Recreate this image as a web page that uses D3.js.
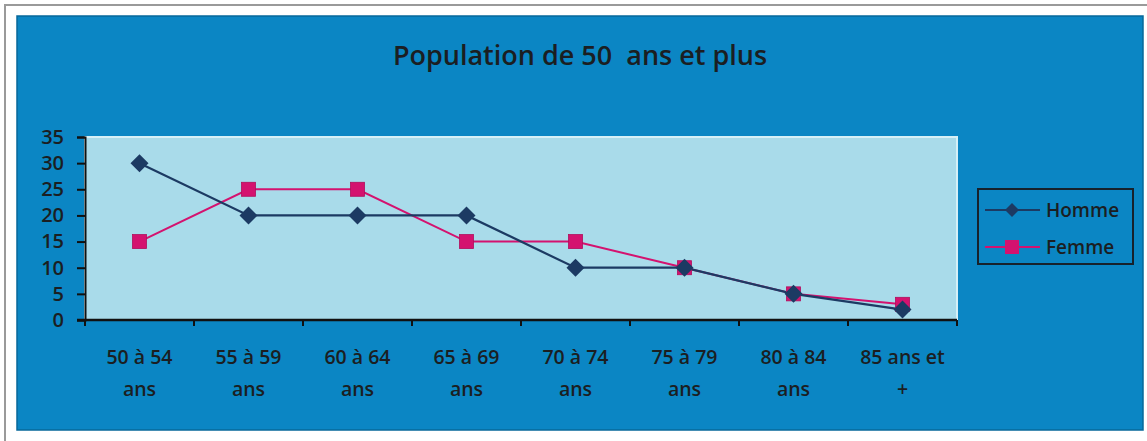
<!DOCTYPE html>
<html><head><meta charset="utf-8">
<script src="https://cdn.jsdelivr.net/npm/d3@7"></script>
<style>body{margin:0;background:#fff;}svg{display:block;}</style>
</head><body>
<svg id="c" width="1147" height="441"></svg>
<script>
const categories = [["50 à 54","ans"],["55 à 59","ans"],["60 à 64","ans"],["65 à 69","ans"],["70 à 74","ans"],["75 à 79","ans"],["80 à 84","ans"],["85 ans et","+"]];
const homme = [30,20,20,20,10,10,5,2];
const femme = [15,25,25,15,15,10,5,3];
const yTicks = [0,5,10,15,20,25,30,35];
const seriesNames = ["Homme","Femme"];

const svg = d3.select("#c");
const font = "'Open Sans', sans-serif";
const txt = "#1b1e22";

// page frame
svg.append("rect").attr("x",5).attr("y",5).attr("width",1150).attr("height",440).attr("fill","#fff").attr("stroke","#9a9a9a").attr("stroke-width",2);
// chart area
svg.append("rect").attr("x",17).attr("y",16).attr("width",1126).attr("height",414).attr("fill","#0b86c4").attr("stroke","#07689a").attr("stroke-width",1.5);

const L=85,R=957,T=137,B=320;
const x = d3.scaleBand().domain(d3.range(categories.length)).range([L,R]);
const y = d3.scaleLinear().domain([0,35]).range([B,T]);

svg.append("rect").attr("x",L).attr("y",T).attr("width",R-L).attr("height",B-T).attr("fill","#a9dbea").attr("stroke","#d6f0f7").attr("stroke-width",2);

// title
svg.append("text").attr("x",580).attr("y",65).attr("text-anchor","middle")
  .attr("font-family",font).attr("font-weight",600).attr("font-size",27).attr("fill",txt)
  .attr("xml:space","preserve").text("Population de 50  ans et plus");

// y axis
const yAxis = svg.append("g").attr("transform",`translate(${L},0)`)
  .call(d3.axisLeft(y).tickValues(yTicks).tickSize(8).tickPadding(13));
yAxis.select(".domain").attr("stroke","#111").attr("stroke-width",2);
yAxis.selectAll(".tick line").attr("stroke","#111").attr("stroke-width",2);
yAxis.selectAll(".tick text").attr("font-family",font).attr("font-weight",600).attr("font-size",20).attr("fill",txt);

// x axis
const xAxisG = svg.append("g").attr("transform",`translate(0,${B})`);
xAxisG.append("line").attr("x1",L-8).attr("x2",R).attr("y1",0).attr("y2",0).attr("stroke","#111").attr("stroke-width",2.5);
const bounds = d3.range(categories.length+1).map(i=> i<categories.length ? x(i) : x(i-1)+x.bandwidth());
xAxisG.selectAll("line.t").data(bounds).join("line").attr("class","t")
  .attr("x1",d=>d).attr("x2",d=>d).attr("y1",0).attr("y2",6).attr("stroke","#111").attr("stroke-width",2);
const lab = xAxisG.selectAll("text.l").data(categories).join("text").attr("class","l")
  .attr("x",(d,i)=>x(i)+x.bandwidth()/2).attr("text-anchor","middle")
  .attr("font-family",font).attr("font-weight",600).attr("font-size",19.5).attr("fill",txt);
lab.append("tspan").attr("x",(d,i)=>x(i)+x.bandwidth()/2).attr("y",44).text(d=>d[0]);
lab.append("tspan").attr("x",(d,i)=>x(i)+x.bandwidth()/2).attr("y",76).text(d=>d[1]);

const cx = i => x(i)+x.bandwidth()/2;
const line = d3.line().x((d,i)=>cx(i)).y(d=>y(d));
const cH = "#1c3a63", cF = "#d4126f";

svg.append("path").datum(femme).attr("d",line).attr("fill","none").attr("stroke",cF).attr("stroke-width",2);
svg.append("path").datum(homme).attr("d",line).attr("fill","none").attr("stroke",cH).attr("stroke-width",2.2);

const sq = 14, dm = 9;
svg.selectAll("rect.f").data(femme).join("rect").attr("class","f")
  .attr("x",(d,i)=>cx(i)-sq/2).attr("y",d=>y(d)-sq/2).attr("width",sq).attr("height",sq).attr("fill",cF).attr("stroke","#b00e5c").attr("stroke-width",0.8);
svg.selectAll("path.h").data(homme).join("path").attr("class","h")
  .attr("d",(d,i)=>`M${cx(i)},${y(d)-dm}L${cx(i)+dm},${y(d)}L${cx(i)},${y(d)+dm}L${cx(i)-dm},${y(d)}Z`).attr("fill",cH);

// legend
const lg = svg.append("g");
lg.append("rect").attr("x",978).attr("y",189).attr("width",155).attr("height",75).attr("fill","none").attr("stroke","#17222c").attr("stroke-width",2);
const items = [{n:seriesNames[0],c:cH,t:"d",yy:210},{n:seriesNames[1],c:cF,t:"s",yy:247}];
items.forEach(it=>{
  lg.append("line").attr("x1",985).attr("x2",1040).attr("y1",it.yy).attr("y2",it.yy).attr("stroke",it.c).attr("stroke-width",2);
  if(it.t==="d") lg.append("path").attr("d",`M1012,${it.yy-7}L1019,${it.yy}L1012,${it.yy+7}L1005,${it.yy}Z`).attr("fill",it.c);
  else lg.append("rect").attr("x",1005).attr("y",it.yy-7).attr("width",14).attr("height",14).attr("fill",it.c);
  lg.append("text").attr("x",1046).attr("y",it.yy+7).attr("font-family",font).attr("font-weight",600).attr("font-size",19).attr("fill",txt).text(it.n);
});
</script>
</body></html>
